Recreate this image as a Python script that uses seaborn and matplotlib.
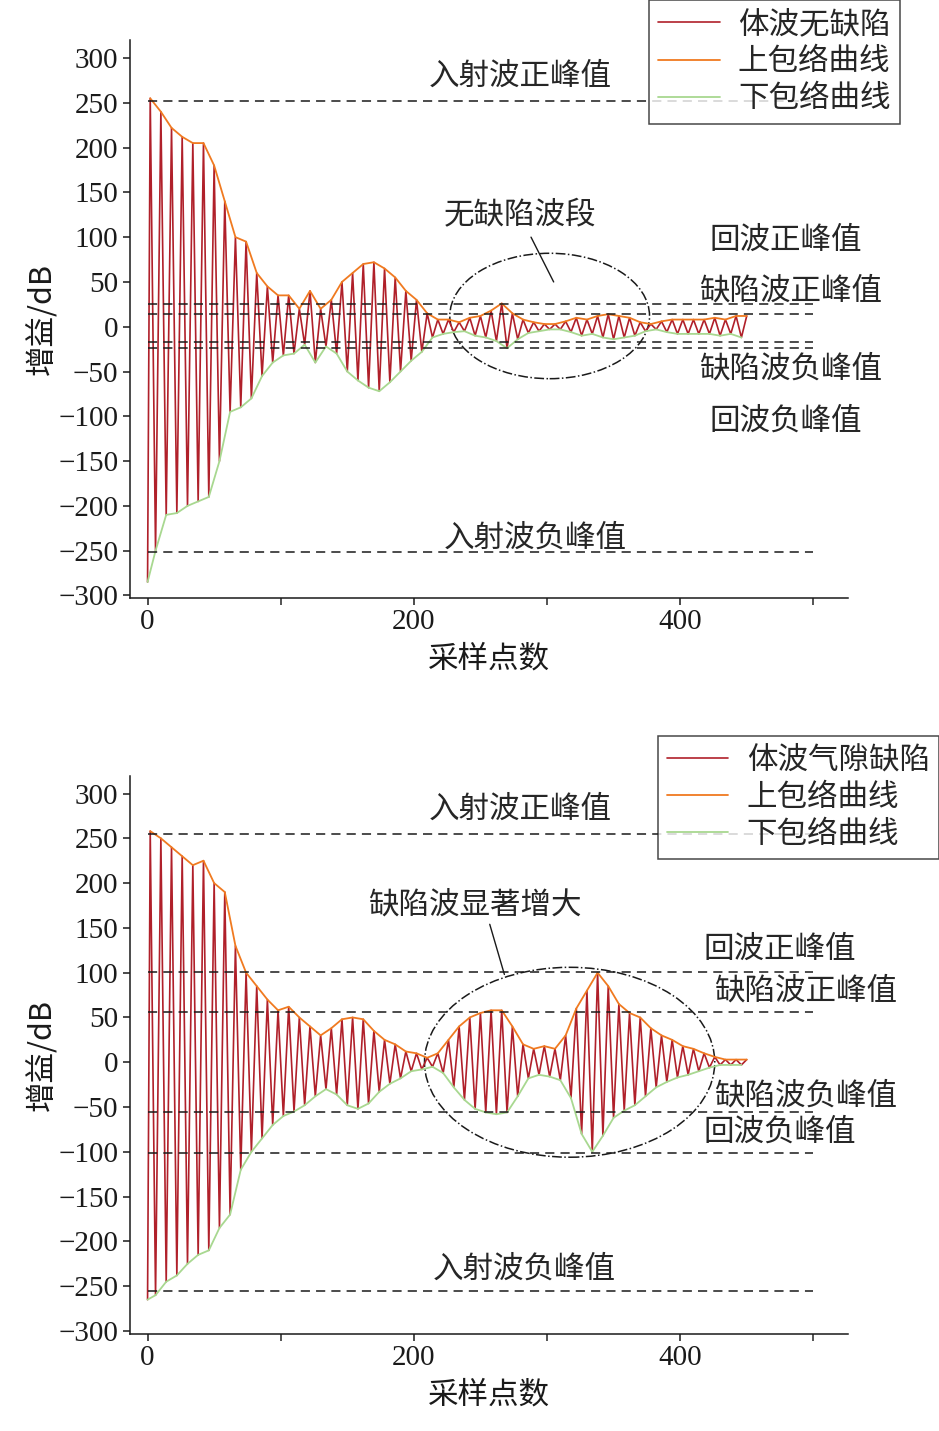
import numpy as np
import matplotlib
matplotlib.use("Agg")
import matplotlib.pyplot as plt
import seaborn as sns
from matplotlib.patches import Ellipse

sns.set_theme(style="ticks")
plt.rcParams['font.family'] = ['Liberation Serif', 'Noto Sans CJK SC']
plt.rcParams['axes.unicode_minus'] = True

# upper envelope peaks at x = 2, 10, 18, ...; lower envelope troughs at x = 6, 14, 22, ...
up1 = [255,240,222,212,205,205,180,140,100,95,60,45,35,35,20,40,20,30,50,60,70,72,65,55,40,30,15,8,8,5,10,12,18,26,15,8,5,3,3,6,10,8,12,14,12,10,5,3,6,8,8,8,8,10,8,12,12]
lo1 = [250,210,208,200,195,190,150,95,90,80,55,40,32,30,20,40,22,30,50,60,68,72,62,50,38,28,12,8,6,5,10,12,16,24,14,7,5,3,3,6,10,8,12,14,12,10,5,3,6,8,8,8,8,10,8,12]
up2 = [258,250,240,230,220,225,200,190,130,100,85,70,58,62,50,40,30,38,48,50,48,35,25,20,12,10,5,10,25,40,50,55,58,58,40,20,15,18,15,30,60,80,100,85,65,55,50,38,30,25,18,15,10,6,3,3,3]
lo2 = [260,245,238,225,215,210,185,170,120,100,85,70,60,55,48,38,30,36,48,52,46,33,24,18,10,8,5,12,28,42,52,56,58,56,38,18,14,16,20,40,80,100,82,62,54,48,38,28,22,17,14,10,6,3,3,3]
start1, start2 = -285, -265
names1 = ['体波无缺陷', '上包络曲线', '下包络曲线']
names2 = ['体波气隙缺陷', '上包络曲线', '下包络曲线']
hl1 = [252, 25, 14, -17, -24, -252]
hl2 = [255, 101, 56, -56, -101, -255]

def build(up, lo, start):
    xs, ys = [0], [start]
    n = min(len(up), len(lo) + 1)
    for k in range(n):
        xs.append(8 * k + 2); ys.append(up[k])
        if k < len(lo):
            xs.append(8 * k + 6); ys.append(-lo[k])
    return np.array(xs, float), np.array(ys, float)

fig = plt.figure(figsize=(9.39, 14.31), dpi=100)
axs = [fig.add_axes([0.138, 0.582, 0.765, 0.39]), fig.add_axes([0.138, 0.068, 0.765, 0.39])]

cfg = [
    (up1, lo1, start1, names1, hl1,
     [('入射波正峰值', 280, 280), ('回波正峰值', 479, 96), ('缺陷波正峰值', 483, 40),
      ('缺陷波负峰值', 483, -47), ('回波负峰值', 479, -105), ('入射波负峰值', 291, -236)],
     (302, 12, 150, 140), ('无缺陷波段', 280, 124), ((288, 100), (305, 50)), (0.958, 1.0)),
    (up2, lo2, start2, names2, hl2,
     [('入射波正峰值', 280, 282), ('回波正峰值', 475, 126), ('缺陷波正峰值', 494, 79),
      ('缺陷波负峰值', 494, -38), ('回波负峰值', 475, -78), ('入射波负峰值', 283, -231)],
     (317, 0, 218, 212), ('缺陷波显著增大', 246, 176), ((257, 154), (268, 98)), (1.0, 0.486)),
]

cjk = ['Noto Sans CJK SC']
for ax, (up, lo, st, names, hl, labels, ell, note, arrow, anchor) in zip(axs, cfg):
    x, y = build(up, lo, st)
    sns.lineplot(x=x, y=y, ax=ax, color='#b0202a', lw=1.2, label=names[0], sort=False)
    xu, yu = x[y > 0], y[y > 0]
    xl, yl = x[y < 0], y[y < 0]
    sns.lineplot(x=xu, y=yu, ax=ax, color='#f07a20', lw=1.3, label=names[1])
    sns.lineplot(x=xl, y=yl, ax=ax, color='#a8d890', lw=1.3, label=names[2])
    for h in hl:
        ax.plot([0, 500], [h, h], ls=(0, (6, 4)), color='k', lw=1.1)
    for t, tx, ty in labels:
        ax.text(tx, ty, t, fontsize=22, ha='center', va='center', clip_on=False, family=cjk)
    ax.add_patch(Ellipse((ell[0], ell[1]), ell[2], ell[3], fill=False, ls='-.', lw=1.1, color='k'))
    ax.text(note[1], note[2], note[0], fontsize=22, ha='center', va='center', family=cjk)
    ax.plot([arrow[0][0], arrow[1][0]], [arrow[0][1], arrow[1][1]], color='k', lw=1)
    ax.set_xlim(-13.5, 526)
    ax.set_ylim(-303, 320)
    ax.set_xticks([0, 200, 400])
    ax.set_xticks([100, 300, 500], minor=True)
    ax.set_yticks(np.arange(-300, 301, 50))
    ax.tick_params(labelsize=21, direction='out', length=5, width=1.1, colors='k', pad=3)
    ax.tick_params(which='minor', length=5, width=1.1)
    ax.set_xlabel('采样点数', fontsize=22, family=cjk, color='k', labelpad=6)
    ax.set_ylabel('增益/dB', fontsize=22, family=cjk, color='k', labelpad=0)
    for s in ['top', 'right']:
        ax.spines[s].set_visible(False)
    for s in ['left', 'bottom']:
        ax.spines[s].set_color('k'); ax.spines[s].set_linewidth(1.1)
    leg = ax.legend(loc='upper right', bbox_to_anchor=anchor, bbox_transform=fig.transFigure,
                    frameon=True, fancybox=False, edgecolor='k', handlelength=2.0,
                    borderpad=0.3, labelspacing=0.2, handletextpad=0.6, borderaxespad=0,
                    prop={'family': cjk, 'size': 22})
    leg.get_frame().set_linewidth(1.1)

fig.savefig('out.png', dpi=100, facecolor='white')
